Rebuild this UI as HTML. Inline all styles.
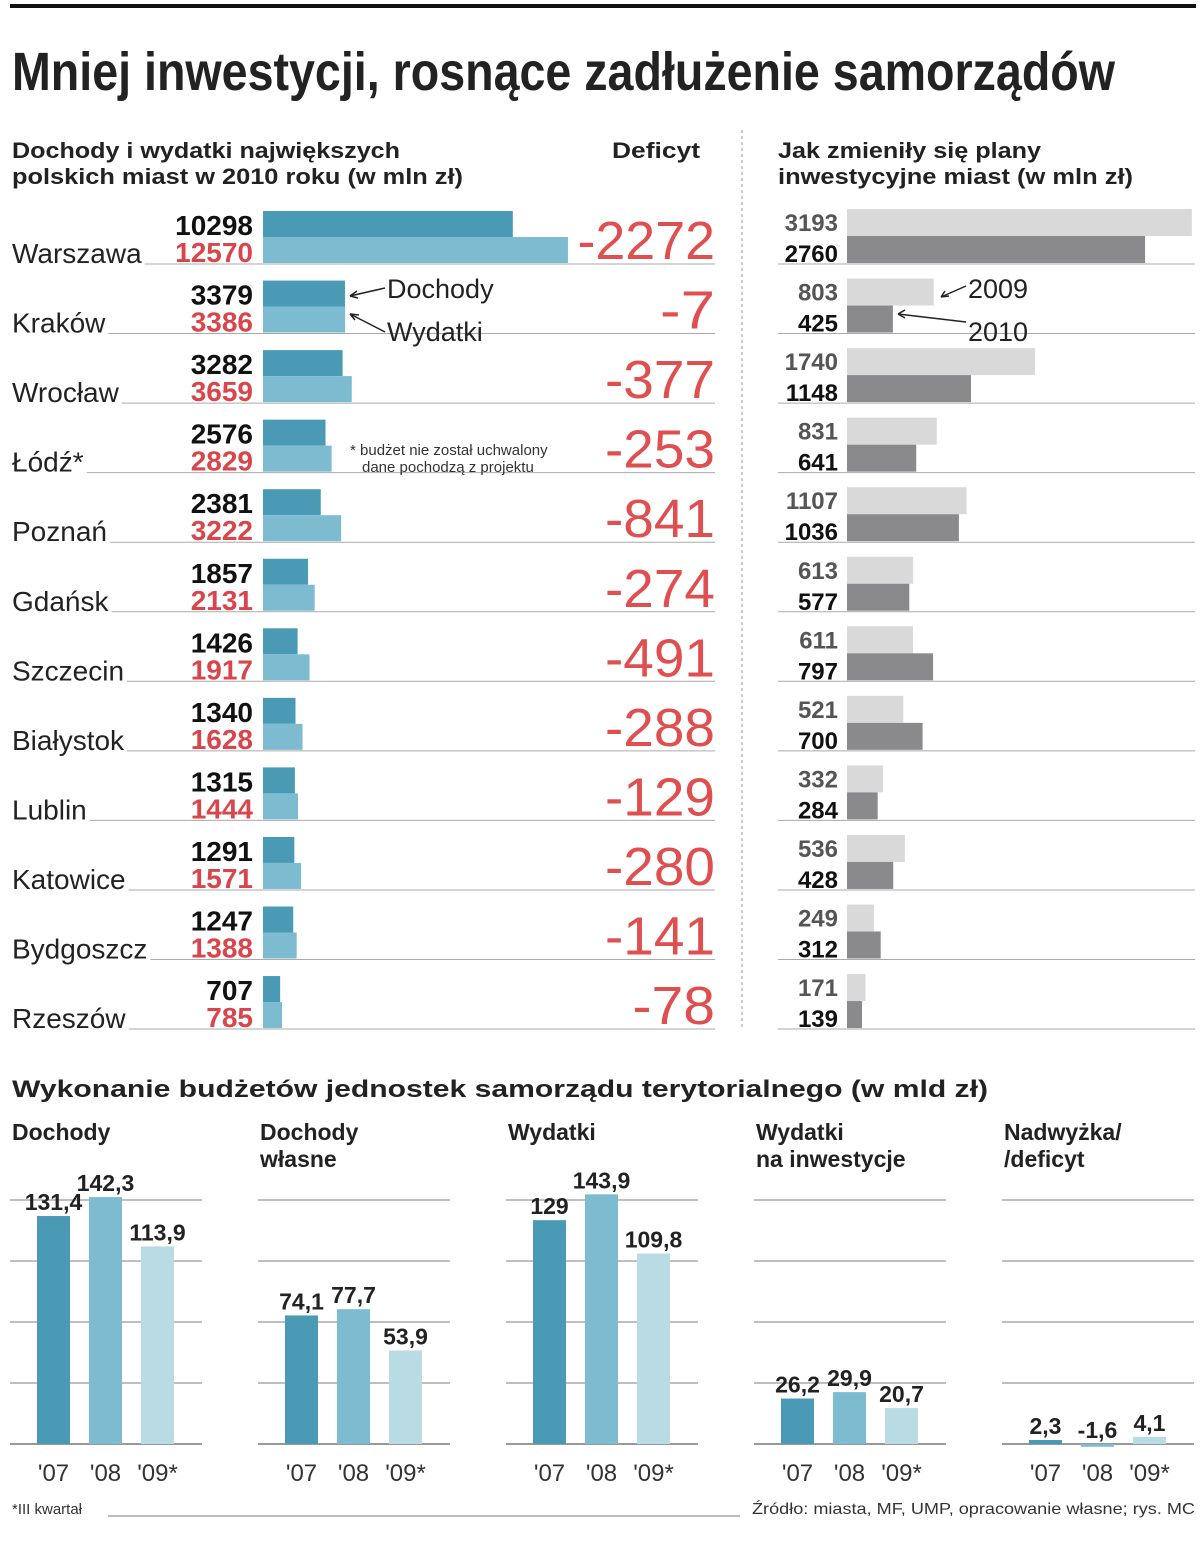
<!DOCTYPE html>
<html><head><meta charset="utf-8"><style>
body{margin:0;background:#fff}
svg{display:block;font-family:"Liberation Sans",sans-serif}
</style></head><body>
<svg id="c" width="1200" height="1541" viewBox="0 0 1200 1541">
<rect x="10" y="4" width="1186" height="4" fill="#111"/>
<text x="12" y="90" font-family="'Liberation Sans Narrow','Liberation Sans',sans-serif" font-weight="bold" font-size="54" textLength="1103" lengthAdjust="spacingAndGlyphs" fill="#222">Mniej inwestycji, rosnące zadłużenie samorządów</text>
<g font-weight="bold" font-size="22" fill="#222" lengthAdjust="spacingAndGlyphs">
<text x="12" y="158" textLength="388" lengthAdjust="spacingAndGlyphs">Dochody i wydatki największych</text>
<text x="12" y="184" textLength="451" lengthAdjust="spacingAndGlyphs">polskich miast w 2010 roku (w mln zł)</text>
<text x="612" y="158" textLength="88" lengthAdjust="spacingAndGlyphs">Deficyt</text>
<text x="778" y="158" textLength="263" lengthAdjust="spacingAndGlyphs">Jak zmieniły się plany</text>
<text x="778" y="184" textLength="355" lengthAdjust="spacingAndGlyphs">inwestycyjne miast (w mln zł)</text>
</g>
<line x1="742" y1="130" x2="742" y2="1030" stroke="#999" stroke-dasharray="3,3"/>
<g id="rows"></g>
<g font-size="15" fill="#333">
<text x="350" y="455">* budżet nie został uchwalony</text>
<text x="362" y="472">dane pochodzą z projektu</text>
</g>
<g font-size="27" fill="#222">
<text x="387" y="298">Dochody</text>
<text x="387" y="341">Wydatki</text>
<text x="968" y="298">2009</text>
<text x="968" y="341">2010</text>
</g>
<g stroke="#222" stroke-width="1.5" fill="none">
<path d="M385 288 L350 296 M350 296 l7 -5 M350 296 l8 2"/>
<path d="M385 332 L350 314 M350 314 l9 1 M350 314 l5 6"/>
<path d="M966 286 L941 297 M941 297 l8 -1 M941 297 l4 -6"/>
<path d="M966 322 L898 314 M898 314 l7 -4 M898 314 l7 4"/>
</g>
<text x="12" y="1097" font-weight="bold" font-size="24" fill="#222" textLength="976" lengthAdjust="spacingAndGlyphs">Wykonanie budżetów jednostek samorządu terytorialnego (w mld zł)</text>
<g id="panels"></g>
<text x="12" y="1514" font-size="15" fill="#333">*III kwartał</text>
<line x1="108" y1="1516" x2="740" y2="1516" stroke="#777"/>
<text x="752" y="1514" font-size="16" fill="#333" textLength="443" lengthAdjust="spacingAndGlyphs">Źródło: miasta, MF, UMP, opracowanie własne;  rys. MC</text>
</svg>
<script>
const cities=["Warszawa","Kraków","Wrocław","Łódź*","Poznań","Gdańsk","Szczecin","Białystok","Lublin","Katowice","Bydgoszcz","Rzeszów"];
const dochody=[10298,3379,3282,2576,2381,1857,1426,1340,1315,1291,1247,707];
const wydatki=[12570,3386,3659,2829,3222,2131,1917,1628,1444,1571,1388,785];
const deficyt=[-2272,-7,-377,-253,-841,-274,-491,-288,-129,-280,-141,-78];
const plan2009=[3193,803,1740,831,1107,613,611,521,332,536,249,171];
const plan2010=[2760,425,1148,641,1036,577,797,700,284,428,312,139];
const panelTitles=[["Dochody"],["Dochody","własne"],["Wydatki"],["Wydatki","na inwestycje"],["Nadwyżka/","/deficyt"]];
const panelValues=[[131.4,142.3,113.9],[74.1,77.7,53.9],[129,143.9,109.8],[26.2,29.9,20.7],[2.3,-1.6,4.1]];
const years=["'07","'08","'09*"];
const NS="http://www.w3.org/2000/svg";
function mk(p,t,a,txt){const e=document.createElementNS(NS,t);for(const k in a)e.setAttribute(k,a[k]);if(txt!==undefined)e.textContent=txt;p.appendChild(e);return e;}
const xL=v=>v*0.02426, xR=v=>v*0.108, rowY=i=>263+i*69.55;
const fmt=v=>String(v).replace('.',',');
const rows=document.getElementById('rows');
cities.forEach((c,i)=>{
  const b=rowY(i);
  const nm=mk(rows,'text',{x:12,y:b,'font-size':28,fill:'#222'},c);
  
  
  const w=nm.getComputedTextLength();
  const ln=mk(rows,'line',{x1:12+w+3,y1:b+1,x2:715,y2:b+1,stroke:'#aaa'});
  
  
  const ln2=mk(rows,'line',{x1:778,y1:b+1,x2:1195,y2:b+1,stroke:'#aaa'});
  
  
  const r1=mk(rows,'rect',{x:263,y:b-52,width:xL(dochody[i]),height:26,fill:'#4a9ab5'});
  
  
  const r2=mk(rows,'rect',{x:263,y:b-26,width:xL(wydatki[i]),height:26,fill:'#7dbbd1'});
  
  
  const t1=mk(rows,'text',{x:253,y:b-28,'text-anchor':'end','font-weight':'bold','font-size':28,fill:'#111'},dochody[i]);
  
  
  const t2=mk(rows,'text',{x:253,y:b-1,'text-anchor':'end','font-weight':'bold','font-size':28,fill:'#d9454a'},wydatki[i]);
  
  
  const d=mk(rows,'text',{x:715,y:b-4,'text-anchor':'end','font-size':54,'font-family':"'Liberation Sans Narrow','Liberation Sans',sans-serif",fill:'#df4f4f',textLength:String(deficyt[i]).length*27.5,lengthAdjust:'spacingAndGlyphs'},deficyt[i]);
  
  
  const p1=mk(rows,'rect',{x:847,y:b-54,width:xR(plan2009[i]),height:27,fill:'#d9d9d9'});
  
  
  const p2=mk(rows,'rect',{x:847,y:b-27,width:xR(plan2010[i]),height:27,fill:'#8a8a8c'});
  
  
  const q1=mk(rows,'text',{x:838,y:b-32,'text-anchor':'end','font-weight':'bold','font-size':24,fill:'#555'},plan2009[i]);
  
  
  const q2=mk(rows,'text',{x:838,y:b-1,'text-anchor':'end','font-weight':'bold','font-size':24,fill:'#111'},plan2010[i]);
  
  
});
const panels=document.getElementById('panels');
const colors=['#4a9ab5','#7dbbd1','#b9dbe4'];
const base=1444, sc=1.735;
panelValues.forEach((vals,p)=>{
  const x0=10+p*248;
  const g=mk(panels,'g',{});
  
  
  panelTitles[p].forEach((t,k)=>{
    const tt=mk(g,'text',{x:x0+2,y:1140+k*27,'font-weight':'bold','font-size':23,fill:'#222'},t);
    
    
  });
  for(let k=0;k<5;k++){
    const gl=mk(g,'line',{x1:x0,y1:base-k*61,x2:x0+192,y2:base-k*61,stroke:k?'#aaa':'#999','stroke-width':k?1.5:2});
    
    
  }
  vals.forEach((v,j)=>{
    const bx=x0+27+j*52, h=Math.abs(v)*sc, top=v>=0?base-h:base;
    const r=mk(g,'rect',{x:bx,y:top,width:33,height:Math.max(h,1),fill:colors[j]});
    
    
    const ly=(v>=0?top:base)-6;
    const l=mk(g,'text',{x:bx+16.5,y:ly,'text-anchor':'middle','font-weight':'bold','font-size':23,fill:'#222'},fmt(v));
    
    
    const yl=mk(g,'text',{x:bx+16.5,y:1481,'text-anchor':'middle','font-size':24,fill:'#333'},years[j]);
    
    
  });
});
</script>
</body></html>
